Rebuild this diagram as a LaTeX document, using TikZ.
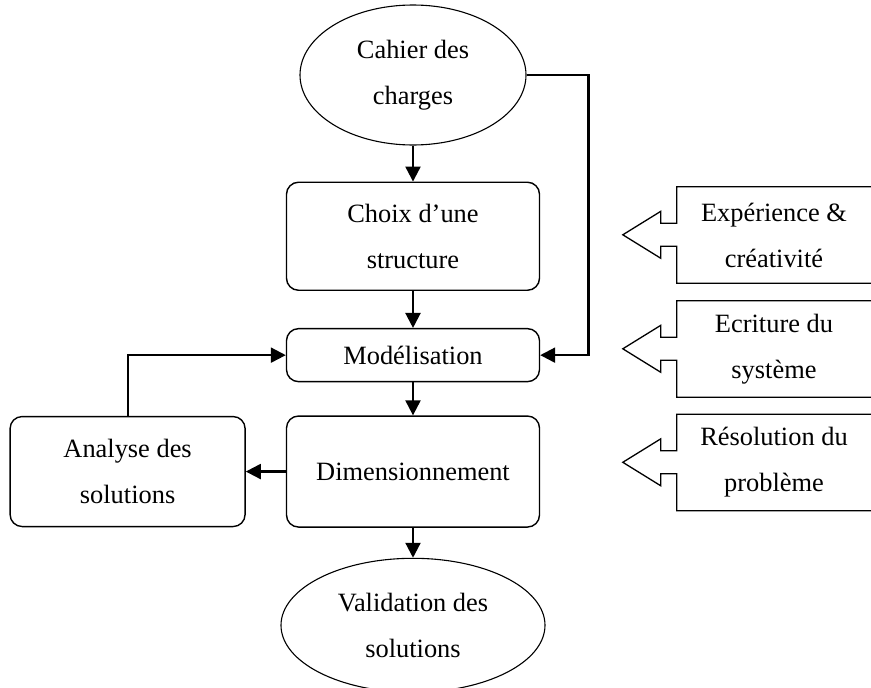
\documentclass[tikz,border=0pt]{standalone}
\usepackage{fontspec}
\setmainfont{Liberation Serif}
\usetikzlibrary{shapes.geometric,arrows.meta,positioning,calc}

\begin{document}
\begin{tikzpicture}[
    x=1pt,y=-1pt,
    font=\fontsize{26.4}{46}\selectfont,
    box/.style={draw,line width=1.4pt,rounded corners=12pt,minimum width=253pt,align=center},
    oval/.style={draw,ellipse,line width=1.1pt,align=center,inner sep=0pt},
    tag/.style={minimum width=194pt,minimum height=96pt,inner sep=0pt,align=center},
    pointer/.style={draw,line width=1.3pt},
    arr/.style={-{Triangle[length=15pt,width=15pt]},line width=2.2pt},
  ]
    \useasboundingbox (0,0) rectangle (871,688);

    \node[oval,minimum width=226pt,minimum height=140pt] (cahier) at (413,75) {Cahier des\\charges};
    \node[box,minimum height=108pt,below=36pt of cahier] (choix) {Choix d’une\\structure};
    \node[box,minimum height=53pt,below=37pt of choix] (model) {Modélisation};
    \node[box,minimum height=111pt,below=33pt of model] (dimens) {Dimensionnement};
    \node[box,minimum width=235pt,minimum height=110pt,left=40pt of dimens] (analyse) {Analyse des\\solutions};
    \node[oval,minimum width=264pt,minimum height=134pt,below=30pt of dimens] (valid) {Validation des\\solutions};

    \node[tag] (exp) at (774,235) {Expérience \&\\créativité};
    \node[tag] (ecr) at (774,349) {Ecriture du\\système};
    \node[tag] (res) at (774,462.5) {Résolution du\\problème};

    \draw[arr] (cahier.south) -- (choix.north);
    \draw[arr] (choix) -- (model);
    \draw[arr] (model) -- (dimens);
    \draw[arr] (dimens) -- (valid);
    \draw[arr] (dimens) -- (analyse);
    \draw[arr] (analyse.north) |- (model.west);
    \draw[arr] (cahier.east) -- ++(62,0) |- (model.east);

    \foreach \t in {exp,ecr,res}
      \draw[pointer] (\t.north east) -- (\t.north west) -- ++(0,36.5) -- ++(-16,0) -- ++(0,-12)
        -- ++(-38,23.5) -- ++(38,23.5) -- ++(0,-12) -- ++(16,0) -- (\t.south west) -- (\t.south east);
  \end{tikzpicture}
\end{document}
